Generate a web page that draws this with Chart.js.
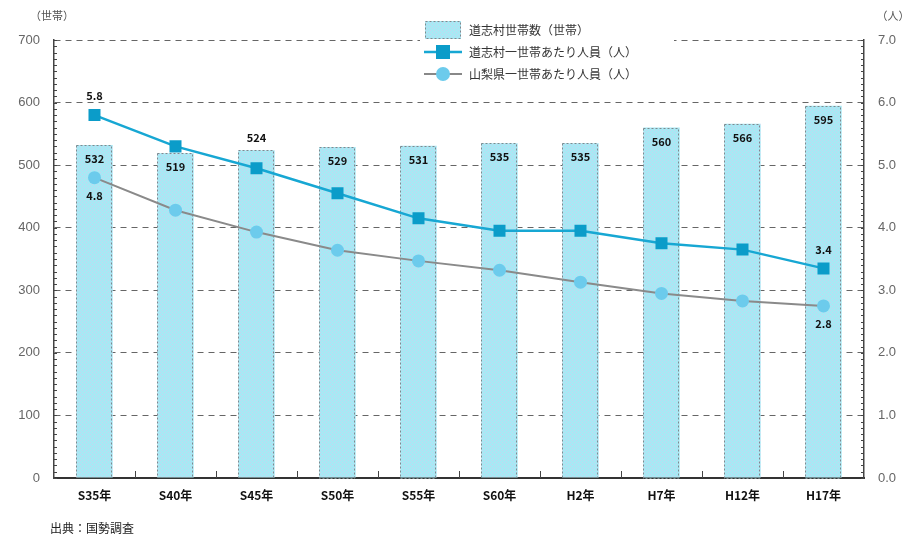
<!DOCTYPE html>
<html>
<head>
<meta charset="utf-8">
<script src="https://cdn.jsdelivr.net/npm/chart.js@4/dist/chart.umd.min.js"></script>
<style>
  html, body { margin: 0; padding: 0; background: #fff; }
  #wrap { position: relative; width: 913px; height: 543px; }
</style>
</head>
<body>
<div id="wrap"><canvas id="chart" width="913" height="543"></canvas></div>
<script>
const years = ['S35年', 'S40年', 'S45年', 'S50年', 'S55年', 'S60年', 'H2年', 'H7年', 'H12年', 'H17年'];
const households = [532, 519, 524, 529, 531, 535, 535, 560, 566, 595];
const villagePerHousehold = [5.8, 5.3, 4.95, 4.55, 4.15, 3.95, 3.95, 3.75, 3.65, 3.35];
const prefPerHousehold = [4.8, 4.28, 3.93, 3.64, 3.47, 3.32, 3.13, 2.95, 2.83, 2.75];
const legendLabels = ['道志村世帯数（世帯）', '道志村一世帯あたり人員（人）', '山梨県一世帯あたり人員（人）'];

const JP = '"Noto Sans CJK JP", "Noto Sans", sans-serif';
const CYAN = '#17a7d3';
const SQ = '#0b9cc9';
const DOT = '#6ccbec';

const extras = {
  id: 'extras',
  afterDatasetDraw(chart, args) {
    if (args.index !== 0) return;
    // dotted outline of the bars
    const ctx = chart.ctx;
    ctx.save();
    ctx.strokeStyle = '#7d8a8f';
    ctx.lineWidth = 1;
    ctx.setLineDash([2, 2]);
    args.meta.data.forEach(b => {
      const w = b.width;
      ctx.strokeRect(Math.round(b.x - w / 2) + 0.5, Math.round(b.y) + 0.5, Math.round(w) - 1, Math.round(b.base - b.y));
    });
    ctx.restore();
  },
  afterDatasetsDraw(chart) {
    const ctx = chart.ctx;
    ctx.save();
    ctx.font = 'bold 11px ' + JP;
    ctx.fillStyle = '#111';
    ctx.textAlign = 'center';
    ctx.textBaseline = 'middle';
    chart.getDatasetMeta(0).data.forEach((b, i) => {
      const y = i === 2 ? b.y - 12 : b.y + 14;
      ctx.fillText(households[i], b.x, y);
    });
    const m1 = chart.getDatasetMeta(1).data;
    const m2 = chart.getDatasetMeta(2).data;
    const last = years.length - 1;
    ctx.fillText(villagePerHousehold[0].toFixed(1), m1[0].x, m1[0].y - 19);
    ctx.fillText(villagePerHousehold[last].toFixed(1), m1[last].x, m1[last].y - 19);
    ctx.fillText(prefPerHousehold[0].toFixed(1), m2[0].x, m2[0].y + 18);
    ctx.fillText(prefPerHousehold[last].toFixed(1), m2[last].x, m2[last].y + 18);
    ctx.restore();
  },
  afterDraw(chart) {
    const ctx = chart.ctx;
    const area = chart.chartArea;
    const y = chart.scales.y;
    ctx.save();
    ctx.strokeStyle = '#444';
    ctx.lineWidth = 1;
    // minor ticks on both value axes
    for (let v = 0; v <= 700; v += 10) {
      const py = Math.round(y.getPixelForValue(v)) + 0.5;
      ctx.beginPath();
      ctx.moveTo(area.left, py); ctx.lineTo(area.left + 3, py);
      ctx.moveTo(area.right, py); ctx.lineTo(area.right - 3, py);
      ctx.stroke();
    }
    // category separators on the bottom axis
    for (let i = 1; i < years.length; i++) {
      const px = Math.round(area.left + (area.right - area.left) * i / years.length) + 0.5;
      ctx.beginPath();
      ctx.moveTo(px, area.bottom); ctx.lineTo(px, area.bottom - 7);
      ctx.stroke();
    }
    // unit labels
    ctx.font = '11px ' + JP;
    ctx.fillStyle = '#555';
    ctx.textAlign = 'center';
    ctx.textBaseline = 'middle';
    ctx.fillText('（世帯）', 52, 16);
    ctx.fillText('（人）', 893, 16);
    // source
    ctx.textAlign = 'left';
    ctx.font = '12px ' + JP;
    ctx.fillStyle = '#222';
    ctx.fillText('出典：国勢調査', 50, 528);

    // legend
    const lx = 424, ly = 30;
    ctx.fillStyle = '#fff';
    ctx.fillRect(lx - 4, 16, 254, 70);
    ctx.fillStyle = chart.data.datasets[0].backgroundColor;
    ctx.fillRect(lx + 1, ly - 9, 36, 18);
    ctx.strokeStyle = '#7d8a8f';
    ctx.setLineDash([2, 2]);
    ctx.strokeRect(lx + 1.5, ly - 8.5, 35, 17);
    ctx.setLineDash([]);
    ctx.strokeStyle = CYAN; ctx.lineWidth = 2.5;
    ctx.beginPath(); ctx.moveTo(lx, ly + 22); ctx.lineTo(lx + 38, ly + 22); ctx.stroke();
    ctx.fillStyle = SQ;
    ctx.fillRect(lx + 12, ly + 15, 14, 14);
    ctx.strokeStyle = '#888'; ctx.lineWidth = 2;
    ctx.beginPath(); ctx.moveTo(lx, ly + 44); ctx.lineTo(lx + 38, ly + 44); ctx.stroke();
    ctx.fillStyle = DOT;
    ctx.beginPath(); ctx.arc(lx + 19, ly + 44, 7, 0, Math.PI * 2); ctx.fill();
    ctx.font = '12px ' + JP;
    ctx.fillStyle = '#333';
    ctx.textAlign = 'left';
    legendLabels.forEach((t, i) => ctx.fillText(t, lx + 45, ly + i * 22));
    ctx.restore();
  }
};

const ctx = document.getElementById('chart').getContext('2d');
const pc = document.createElement('canvas');
pc.width = 4; pc.height = 4;
const pg = pc.getContext('2d');
pg.fillStyle = '#a8e8f4'; pg.fillRect(0, 0, 4, 4);
pg.fillStyle = '#c2d6f0'; pg.fillRect(0, 0, 1, 1); pg.fillRect(2, 2, 1, 1);
const pattern = ctx.createPattern(pc, 'repeat');

new Chart(ctx, {
  data: {
    labels: years,
    datasets: [
      { type: 'bar', label: legendLabels[0], data: households, yAxisID: 'y', order: 3,
        backgroundColor: pattern, borderWidth: 0,
        barPercentage: 0.9, categoryPercentage: 0.5 },
      { type: 'line', label: legendLabels[1], data: villagePerHousehold, yAxisID: 'y2', order: 1,
        borderColor: CYAN, borderWidth: 2.5, tension: 0,
        pointStyle: 'rect', pointRadius: 8.5, pointBackgroundColor: SQ, pointBorderWidth: 0 },
      { type: 'line', label: legendLabels[2], data: prefPerHousehold, yAxisID: 'y2', order: 2,
        borderColor: '#8a8a8a', borderWidth: 2, tension: 0,
        pointStyle: 'circle', pointRadius: 6.5, pointBackgroundColor: DOT, pointBorderWidth: 0 }
    ]
  },
  options: {
    responsive: false,
    animation: false,
    layout: { padding: { top: 40, left: 0, right: 0, bottom: 0 } },
    plugins: { legend: { display: false }, tooltip: { enabled: false } },
    scales: {
      x: {
        afterFit: s => { s.height = 65; },
        grid: { display: false, drawTicks: false },
        border: { color: '#333', width: 2 },
        ticks: { color: '#111', font: { family: JP, size: 12, weight: 'bold' }, padding: 10 }
      },
      y: {
        position: 'left', min: 0, max: 700,
        afterFit: s => { s.width = 54; },
        ticks: { stepSize: 100, color: '#666', font: { family: 'Liberation Sans', size: 13 }, padding: 14 },
        grid: { color: '#666', lineWidth: 1, drawTicks: false },
        border: { color: '#444', width: 1.5, dash: [6, 5] }
      },
      y2: {
        position: 'right', min: 0, max: 7,
        afterFit: s => { s.width = 49; },
        ticks: { stepSize: 1, color: '#666', font: { family: 'Liberation Sans', size: 13 }, padding: 14,
          callback: v => v.toFixed(1) },
        grid: { drawOnChartArea: false, drawTicks: false },
        border: { color: '#444', width: 1.5 }
      }
    }
  },
  plugins: [extras]
});
</script>
</body>
</html>
